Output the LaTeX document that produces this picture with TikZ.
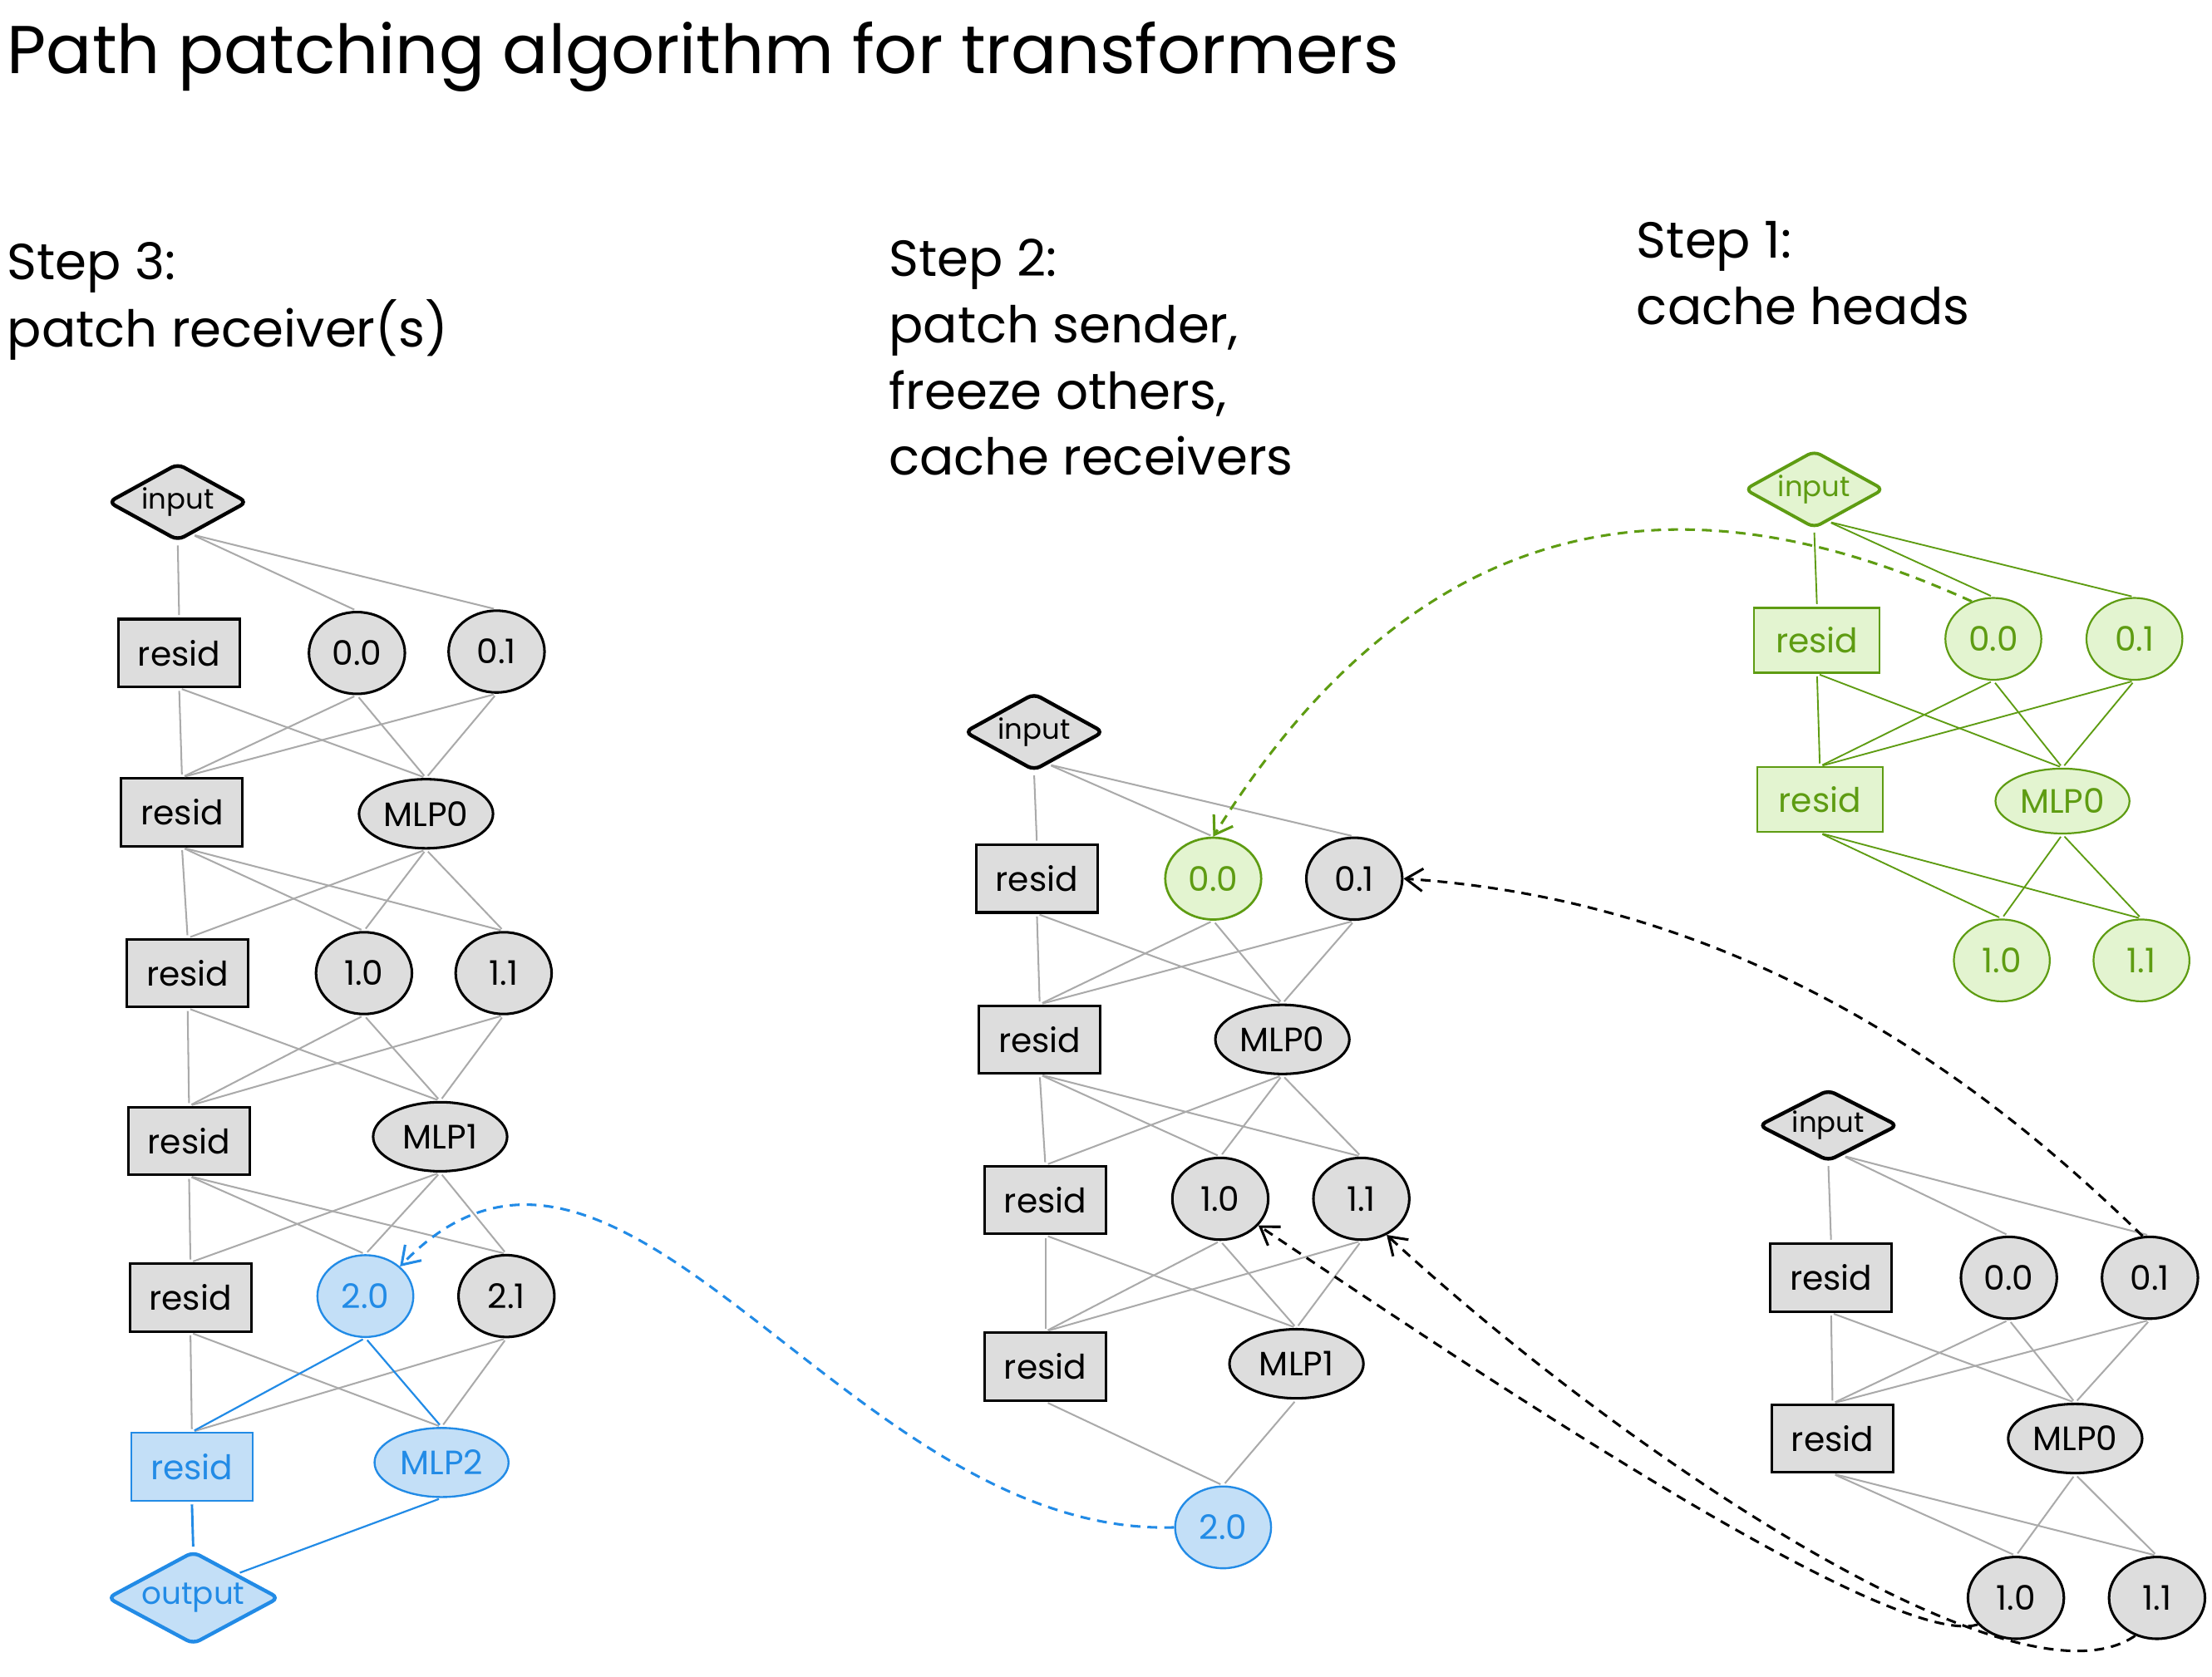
\documentclass[tikz,border=0pt]{standalone}
\usepackage{fontspec}
\setmainfont{Poppins}
\usetikzlibrary{shapes.geometric,arrows.meta,calc}

\definecolor{nodegray}{HTML}{DDDDDD}
\definecolor{edgegray}{HTML}{AAAAAA}
\definecolor{bluestroke}{HTML}{228BE6}
\definecolor{bluefill}{HTML}{C3DFF7}
\definecolor{greenstroke}{HTML}{5E9C12}
\definecolor{greenfill}{HTML}{E3F4D0}

\newcommand{\zw}[1]{\makebox[0pt]{#1}}

\begin{document}
\begin{tikzpicture}[x=1pt,y=-1pt,
  basenode/.style={draw=black, fill=nodegray, text=black, line width=1.8pt, inner sep=0pt,
    font=\fontsize{24}{24}\selectfont},
  residbox/.style={basenode, rectangle, minimum width=86pt, minimum height=48pt},
  headnode/.style={basenode, ellipse, minimum width=68pt, minimum height=58pt},
  mlpnode/.style={basenode, ellipse, minimum width=95pt, minimum height=49pt},
  ionode/.style={basenode, diamond, aspect=2, minimum width=99pt, minimum height=55pt, line width=2.6pt, rounded corners=5pt,
    font=\fontsize{20}{20}\selectfont},
  bluenode/.style={draw=bluestroke, fill=bluefill, text=bluestroke, line width=1.4pt},
  bluediamond/.style={draw=bluestroke, fill=bluefill, text=bluestroke, line width=2.6pt},
  greennode/.style={draw=greenstroke, fill=greenfill, text=greenstroke, line width=1.3pt},
  greendiamond/.style={draw=greenstroke, fill=greenfill, text=greenstroke, line width=2.3pt},
  edgeline/.style={draw=edgegray, line width=1.2pt, shorten <=2pt, shorten >=2pt},
  blueedge/.style={draw=bluestroke, line width=1.3pt, shorten <=2pt, shorten >=2pt},
  greenedge/.style={draw=greenstroke, line width=1.1pt, shorten <=2pt, shorten >=2pt},
  dasharrow/.style={dash pattern=on 7pt off 5pt, line width=1.8pt,
    -{Straight Barb[length=12pt, width=16pt, line width=1.8pt]}},
  titletext/.style={anchor=base west, inner sep=0pt, font=\fontsize{48}{48}\selectfont},
  steptext/.style={anchor=base west, inner sep=0pt, font=\fontsize{36}{36}\selectfont}
]
\useasboundingbox (0,0) rectangle (1568,1189);
\fill[white] (0,0) rectangle (1568,1189);

% texts
\node[titletext] (title) at (5,52) {Path patching algorithm for transformers};
\node[steptext] (s3a) at (5,198) {Step 3:};
\node[steptext] (s3b) at (5,246) {patch receiver(s)};
\node[steptext] (s2a) at (630,196) {Step 2:};
\node[steptext] (s2b) at (630,243) {patch sender,};
\node[steptext] (s2c) at (630,290) {freeze others,};
\node[steptext] (s2d) at (630,337) {cache receivers};
\node[steptext] (s1a) at (1160,183) {Step 1:};
\node[steptext] (s1b) at (1160,230) {cache heads};

% ---------- left column (step 3)
\node[ionode] (Lin) at (126,356) {\zw{input}};
\node[residbox] (Lr1) at (127,463) {resid};
\node[headnode] (L00) at (253,463) {0.0};
\node[headnode] (L01) at (352,462) {0.1};
\node[residbox] (Lr2) at (129,576) {resid};
\node[mlpnode] (Lm0) at (302,577) {MLP0};
\node[residbox] (Lr3) at (133,690) {resid};
\node[headnode] (L10) at (258,690) {1.0};
\node[headnode] (L11) at (357,690) {1.1};
\node[residbox] (Lr4) at (134,809) {resid};
\node[mlpnode] (Lm1) at (312,806) {MLP1};
\node[residbox] (Lr5) at (135,920) {resid};
\node[headnode, bluenode] (L20) at (259,919) {2.0};
\node[headnode] (L21) at (359,919) {2.1};
\node[residbox, bluenode] (Lr6) at (136,1040) {resid};
\node[mlpnode, bluenode] (Lm2) at (313,1037) {MLP2};
\node[ionode, bluediamond, minimum width=122pt, minimum height=66pt, font=\fontsize{22}{22}\selectfont] (Lout) at (137,1133) {\zw{output}};

\draw[edgeline] (Lin.south) -- (Lr1.north);
\foreach \b in {L00,L01} \draw[edgeline] ($(Lin.south)!0.2!(Lin.east)$) -- (\b.north);
\foreach \a in {Lr1,L00,L01} \foreach \b in {Lr2,Lm0} \draw[edgeline] (\a.south) -- (\b.north);
\foreach \a in {Lr2,Lm0} \foreach \b in {Lr3,L10,L11} \draw[edgeline] (\a.south) -- (\b.north);
\foreach \a in {Lr3,L10,L11} \foreach \b in {Lr4,Lm1} \draw[edgeline] (\a.south) -- (\b.north);
\foreach \a in {Lr4,Lm1} \foreach \b in {Lr5,L20,L21} \draw[edgeline] (\a.south) -- (\b.north);
\foreach \a in {Lr5,L21} \foreach \b in {Lr6,Lm2} \draw[edgeline] (\a.south) -- (\b.north);
\foreach \b in {Lr6,Lm2} \draw[blueedge] (L20.south) -- (\b.north);
\draw[blueedge, line width=1.7pt] (Lr6.south) -- (Lout.north);
\draw[blueedge] (Lm2.south) -- (Lout.north east);

% ---------- middle column (step 2)
\node[ionode] (Min) at (733,519) {\zw{input}};
\node[residbox] (Mr1) at (735,623) {resid};
\node[headnode, greennode, line width=1.6pt] (M00) at (860,623) {0.0};
\node[headnode] (M01) at (960,623) {0.1};
\node[residbox] (Mr2) at (737,737) {resid};
\node[mlpnode] (Mm0) at (909,737) {MLP0};
\node[residbox] (Mr3) at (741,851) {resid};
\node[headnode] (M10) at (865,850) {1.0};
\node[headnode] (M11) at (965,850) {1.1};
\node[residbox] (Mr4) at (741,969) {resid};
\node[mlpnode] (Mm1) at (919,967) {MLP1};
\node[headnode, bluenode] (M20) at (867,1083) {2.0};

\draw[edgeline] (Min.south) -- (Mr1.north);
\foreach \b in {M00,M01} \draw[edgeline] ($(Min.south)!0.2!(Min.east)$) -- (\b.north);
\foreach \a in {Mr1,M00,M01} \foreach \b in {Mr2,Mm0} \draw[edgeline] (\a.south) -- (\b.north);
\foreach \a in {Mr2,Mm0} \foreach \b in {Mr3,M10,M11} \draw[edgeline] (\a.south) -- (\b.north);
\foreach \a in {Mr3,M10,M11} \foreach \b in {Mr4,Mm1} \draw[edgeline] (\a.south) -- (\b.north);
\foreach \a in {Mr4,Mm1} \draw[edgeline] (\a.south) -- (M20.north);

% ---------- right top (step 1, green)
\node[ionode, greendiamond] (Gin) at (1286,347) {\zw{input}};
\node[residbox, greennode, minimum width=89pt, minimum height=46pt] (Gr1) at (1288,454) {resid};
\node[headnode, greennode] (G00) at (1413,453) {0.0};
\node[headnode, greennode] (G01) at (1513,453) {0.1};
\node[residbox, greennode, minimum width=89pt, minimum height=46pt] (Gr2) at (1290,567) {resid};
\node[mlpnode, greennode, minimum height=46pt] (Gm0) at (1462,568) {MLP0};
\node[headnode, greennode] (G10) at (1419,681) {1.0};
\node[headnode, greennode] (G11) at (1518,681) {1.1};

\draw[greenedge] (Gin.south) -- (Gr1.north);
\foreach \b in {G00,G01} \draw[greenedge] ($(Gin.south)!0.2!(Gin.east)$) -- (\b.north);
\foreach \a in {Gr1,G00,G01} \foreach \b in {Gr2,Gm0} \draw[greenedge] (\a.south) -- (\b.north);
\foreach \a in {Gr2,Gm0} \foreach \b in {G10,G11} \draw[greenedge] (\a.south) -- (\b.north);

% ---------- right bottom (gray)
\node[ionode, minimum height=51pt] (Bin) at (1296,798) {\zw{input}};
\node[residbox] (Br1) at (1298,906) {resid};
\node[headnode] (B00) at (1424,906) {0.0};
\node[headnode] (B01) at (1524,906) {0.1};
\node[residbox] (Br2) at (1299,1020) {resid};
\node[mlpnode] (Bm0) at (1471,1020) {MLP0};
\node[headnode] (B10) at (1429,1133) {1.0};
\node[headnode] (B11) at (1529,1133) {1.1};

\draw[edgeline] (Bin.south) -- (Br1.north);
\foreach \b in {B00,B01} \draw[edgeline] ($(Bin.south)!0.2!(Bin.east)$) -- (\b.north);
\foreach \a in {Br1,B00,B01} \foreach \b in {Br2,Bm0} \draw[edgeline] (\a.south) -- (\b.north);
\foreach \a in {Br2,Bm0} \foreach \b in {B10,B11} \draw[edgeline] (\a.south) -- (\b.north);

% ---------- dashed arrows
\draw[dasharrow, greenstroke] (G00.120) .. controls (1240,355) and (1030,320) .. (M00.north);
\draw[dasharrow, bluestroke] (M20.west) .. controls (600,1090) and (440,735) .. (L20.north east);
\draw[dasharrow, black] (B01.100) .. controls (1420,780) and (1250,640) .. (M01.east);
\draw[dasharrow, black] (B10.215) .. controls (1340,1170) and (1050,975) .. (M10.-35);
\draw[dasharrow, black] (B11.240) .. controls (1430,1218) and (1150,1030) .. (M11.-55);
\end{tikzpicture}
\end{document}
